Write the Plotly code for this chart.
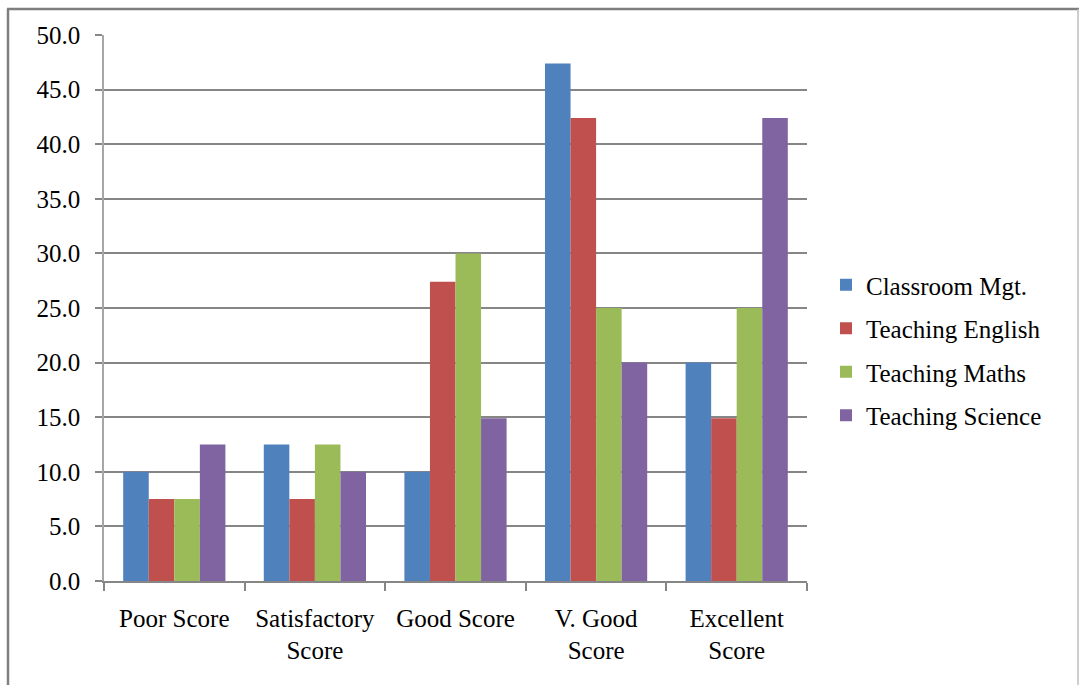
import plotly.graph_objects as go

categories = ["Poor Score", "Satisfactory<br>Score", "Good Score", "V. Good<br>Score", "Excellent<br>Score"]
series_names = ["Classroom Mgt.", "Teaching English", "Teaching Maths", "Teaching Science"]
classroom_mgt = [10.0, 12.5, 10.0, 47.4, 20.0]
teaching_english = [7.5, 7.5, 27.4, 42.4, 14.9]
teaching_maths = [7.5, 12.5, 30.0, 25.0, 25.0]
teaching_science = [12.5, 10.0, 14.9, 20.0, 42.4]
colors = ["#4F81BD", "#C0504D", "#9BBB59", "#8064A2"]
y_ticks = [0, 5, 10, 15, 20, 25, 30, 35, 40, 45, 50]

W, H = 1079, 685
L, R, T, B = 104, 807, 35, 581

fig = go.Figure()
for i, (name, vals) in enumerate(zip(series_names,
                                     [classroom_mgt, teaching_english, teaching_maths, teaching_science])):
    fig.add_trace(go.Bar(x=categories, y=vals, name=name, marker_color=colors[i],
                         marker_line_width=0, legendgroup=f"g{i}"))

font = dict(family="Liberation Serif, Times New Roman, serif", size=25, color="#000000")

def px(x):
    return (x - L) / (R - L)

def py(y):
    return (B - y) / (B - T)

fig.update_layout(
    width=W, height=H,
    margin=dict(l=L, r=W - R, t=T, b=H - B, pad=0),
    paper_bgcolor="white", plot_bgcolor="white",
    font=font,
    barmode="group", bargap=0.273, bargroupgap=0,
    showlegend=True,
    legend=dict(x=px(826), xanchor="left", y=py(262), yanchor="top",
                font=font, tracegroupgap=8, bgcolor="rgba(0,0,0,0)"),
    xaxis=dict(showline=True, linecolor="#868686", linewidth=1.5,
               ticks="outside", ticklen=8, tickcolor="#868686", tickwidth=1.5,
               tickson="boundaries", showgrid=False, tickfont=font,
               ticklabelstandoff=14, range=[-0.5, 4.5]),
    yaxis=dict(range=[0, 50], tickvals=y_ticks, tickformat=".1f",
               showline=True, linecolor="#A6A6A6", linewidth=1.5,
               ticks="outside", ticklen=7, tickcolor="#868686", tickwidth=1.5,
               showgrid=True, gridcolor="#868686", gridwidth=1.5,
               zeroline=False, tickfont=font, ticklabelstandoff=10),
    shapes=[
        dict(type="line", xref="paper", yref="paper", x0=px(8), x1=px(8), y0=py(9), y1=py(690),
             line=dict(color="#7F7F7F", width=2.5)),
        dict(type="line", xref="paper", yref="paper", x0=px(7), x1=px(1079), y0=py(9), y1=py(9),
             line=dict(color="#7F7F7F", width=2.5)),
        dict(type="line", xref="paper", yref="paper", x0=px(1078), x1=px(1078), y0=py(9), y1=py(690),
             line=dict(color="#BFBFBF", width=1.5)),
    ],
)

fig.write_html("out.html")
